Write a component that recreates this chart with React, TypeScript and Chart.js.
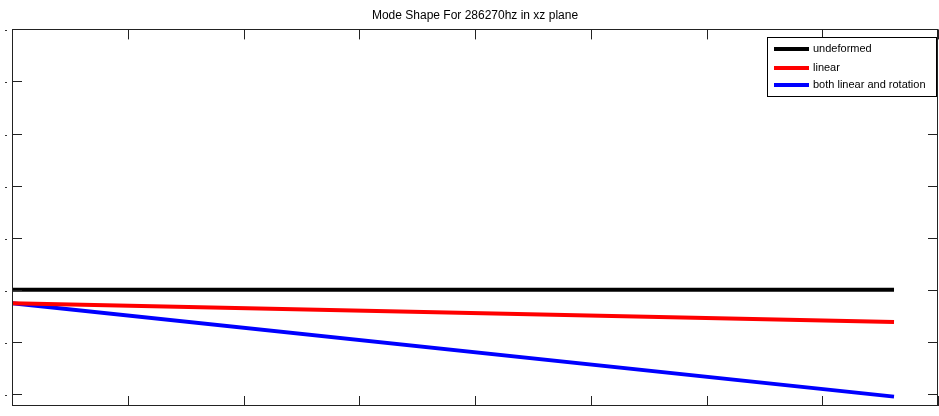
import React, { useEffect, useRef } from "react";
import { Chart, registerables } from "chart.js";

Chart.register(...registerables);

const TITLE = "Mode Shape For 286270hz in xz plane";
const seriesNames = ["undeformed", "linear", "both linear and rotation"];
const seriesColors = ["#000000", "#ff0000", "#0000ff"];
const xPositions = [0, 7.62];
const undeformed = [0, 0];
const linear = [-0.256, -0.615];
const bothLinearRotation = [-0.256, -2.05];
const X_MIN = 0;
const X_MAX = 8;
const Y_MIN = -2.23;
const Y_MAX = 5;

const FONT = "'Liberation Sans', Arial, Helvetica, sans-serif";

const framePlugin = {
  id: "frameTicks",
  afterDatasetsDraw(chart: any) {
    const { ctx, chartArea, scales } = chart;
    const { left, right, top, bottom } = chartArea;
    ctx.save();
    ctx.strokeStyle = "#222";
    ctx.lineWidth = 1;
    ctx.strokeRect(Math.round(left) + 0.5, Math.round(top) + 0.5, Math.round(right - left) - 1, Math.round(bottom - top) - 1);
    const tl = 10;
    ctx.beginPath();
    for (let v = Math.ceil(X_MIN); v <= X_MAX; v++) {
      const px = Math.round(scales.x.getPixelForValue(v)) + 0.5;
      ctx.moveTo(px, top);
      ctx.lineTo(px, top + tl);
      ctx.moveTo(px, bottom);
      ctx.lineTo(px, bottom - tl);
    }
    for (let v = Math.ceil(Y_MIN); v <= Y_MAX; v++) {
      const py = Math.round(scales.y.getPixelForValue(v)) + 0.5;
      ctx.moveTo(left, py);
      ctx.lineTo(left + tl, py);
      ctx.moveTo(right, py);
      ctx.lineTo(right - tl, py);
    }
    ctx.stroke();
    ctx.fillStyle = "#333";
    for (let v = Math.ceil(Y_MIN); v <= Y_MAX; v++) {
      const py = Math.round(scales.y.getPixelForValue(v));
      ctx.fillRect(5, py + 1, 2, 1);
    }
    // legend
    const bx = 767, by = 37, bw = 169, bh = 59;
    ctx.fillStyle = "#fff";
    ctx.fillRect(bx, by, bw, bh);
    ctx.strokeStyle = "#000";
    ctx.strokeRect(bx + 0.5, by + 0.5, bw, bh);
    const ys = [49, 68, 85];
    ctx.font = `11px ${FONT}`;
    ctx.textBaseline = "middle";
    chart.data.datasets.forEach((ds: any, i: number) => {
      ctx.strokeStyle = ds.borderColor;
      ctx.lineWidth = 4;
      ctx.beginPath();
      ctx.moveTo(774, ys[i]);
      ctx.lineTo(809, ys[i]);
      ctx.stroke();
      ctx.fillStyle = "#000";
      ctx.fillText(ds.label, 813, ys[i]);
    });
    ctx.restore();
  },
};

export default function App() {
  const ref = useRef<HTMLCanvasElement>(null);
  useEffect(() => {
    document.body.style.margin = "0";
    const series = [undeformed, linear, bothLinearRotation];
    const chart = new Chart(ref.current!, {
      type: "line",
      data: {
        datasets: series.map((vals, i) => ({
          label: seriesNames[i],
          data: xPositions.map((x, j) => ({ x, y: vals[j] })),
          borderColor: seriesColors[i],
          backgroundColor: seriesColors[i],
          borderWidth: 4,
          pointRadius: 0,
          fill: false,
          tension: 0,
        })),
      },
      options: {
        responsive: false,
        animation: false,
        layout: { padding: { left: 12, right: 1, top: 0, bottom: 10 } },
        plugins: {
          legend: { display: false },
          tooltip: { enabled: false },
          title: {
            display: true,
            text: TITLE,
            color: "#000",
            font: { family: FONT, size: 12, weight: "normal" },
            padding: { top: 8, bottom: 7 },
          },
        },
        scales: {
          x: { type: "linear", min: X_MIN, max: X_MAX, display: false },
          y: { type: "linear", min: Y_MIN, max: Y_MAX, display: false },
        },
      },
      plugins: [framePlugin],
    });
    return () => chart.destroy();
  }, []);
  return <canvas ref={ref} width={939} height={416} style={{ display: "block" }} />;
}
